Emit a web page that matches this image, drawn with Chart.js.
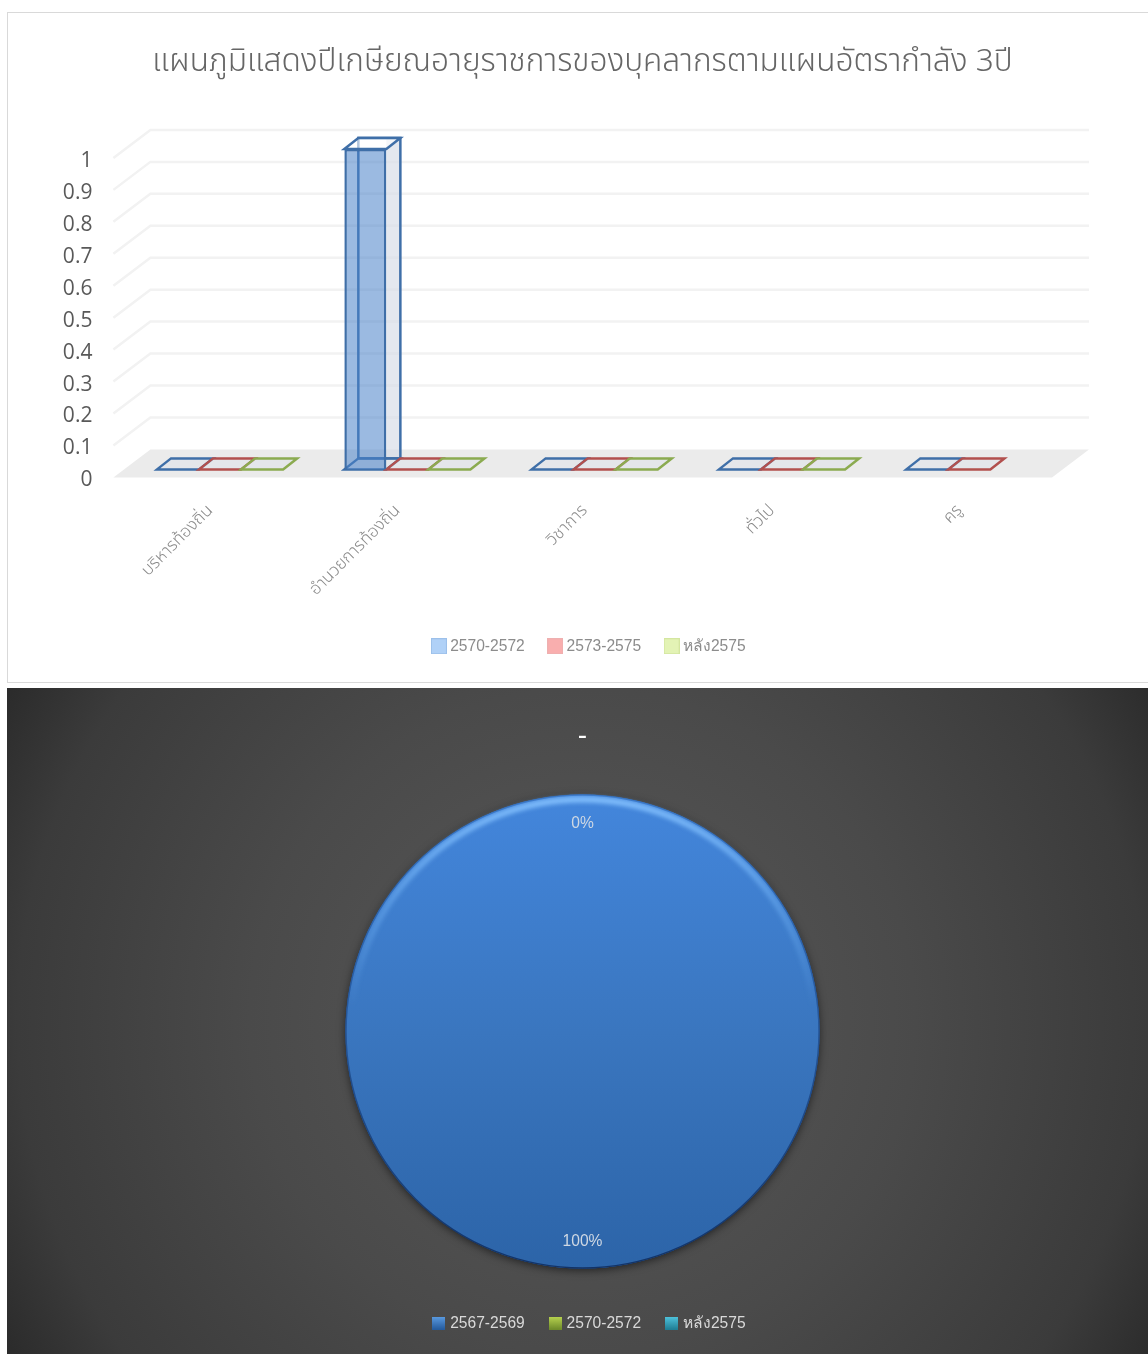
<!DOCTYPE html>
<html>
<head>
<meta charset="utf-8">
<script src="https://cdn.jsdelivr.net/npm/chart.js@4"></script>
<style>
  html, body { margin: 0; padding: 0; background: #fff; overflow: hidden; }
  #box1 { position: absolute; left: 7px; top: 12px; width: 1151px; height: 671px; }
  #box1:before { content: ''; position: absolute; inset: 0; border: 1px solid #d9d9d9; box-sizing: border-box; }
  #box2 { position: absolute; left: 7px; top: 688px; width: 1151px; height: 666px;
          background: radial-gradient(circle farthest-corner at 50% 50%, #595959 0%, #4a4a4a 50%, #3b3b3b 85%, #2b2b2b 100%); }
  canvas { position: absolute; left: 0; top: 0; }
</style>
</head>
<body>
<div id="box1"><canvas id="barChart" width="1151" height="671"></canvas></div>
<div id="box2"><canvas id="pieChart" width="1151" height="666"></canvas></div>
<script>
const thaiFont = '"Noto Sans Thai", "Noto Sans", "Liberation Sans", sans-serif';

// first chart
const barTitle = 'แผนภูมิแสดงปีเกษียณอายุราชการของบุคลากรตามแผนอัตรากำลัง 3ปี';
const categories = ['บริหารท้องถิ่น', 'อำนวยการท้องถิ่น', 'วิชาการ', 'ทั่วไป', 'ครู'];
const series1 = [0, 1, 0, 0, 0];
const series2 = [0, 0, 0, 0, 0];
const series3 = [0, 0, 0, 0, null];
const barLegend = ['2570-2572', '2573-2575', 'หลัง2575'];
const yTicks = [0, 0.1, 0.2, 0.3, 0.4, 0.5, 0.6, 0.7, 0.8, 0.9, 1];

// second chart
const pieTitle = '-';
const pieLegend = ['2567-2569', '2570-2572', 'หลัง2575'];
const pieValues = [1, 0, 0];

// ขนาดของมิติลึก
const depthX = 14, depthY = -11;
const wallX = 37, wallY = -28;

const strokes = ['#3f6fa8', '#b2504e', '#8bab50'];
const fills = ['rgba(72,130,200,0.55)', 'rgba(220,225,232,0.45)', 'rgba(220,228,215,0.45)'];

function swatch(size, draw) {
  const c = document.createElement('canvas');
  c.width = size; c.height = size;
  draw(c.getContext('2d'), size);
  return c;
}

const barSwatches = [['#b0d1f7', '#9cc0ea'], ['#f9aeae', '#eeb0b0'], ['#e3f3b5', '#d4e6a0']].map(p =>
  swatch(16, (g, s) => {
    g.fillStyle = p[0]; g.fillRect(0, 0, s, s);
    g.strokeStyle = p[1]; g.lineWidth = 1; g.strokeRect(0.5, 0.5, s - 1, s - 1);
  }));

const pieSwatches = [['#5a9ae0', '#245a9c'], ['#b7d24f', '#6d8a2a'], ['#4fc3dc', '#1f7d94']].map(p =>
  swatch(13, (g, s) => {
    const lg = g.createLinearGradient(0, 0, 0, s);
    lg.addColorStop(0, p[0]); lg.addColorStop(1, p[1]);
    g.fillStyle = lg; g.fillRect(0, 0, s, s);
  }));

function para(ctx, x0, y0, w, dx, dy) {
  ctx.beginPath();
  ctx.moveTo(x0, y0);
  ctx.lineTo(x0 + dx, y0 + dy);
  ctx.lineTo(x0 + w + dx, y0 + dy);
  ctx.lineTo(x0 + w, y0);
  ctx.closePath();
}

// คำอธิบายในต้นฉบับไม่ได้อยู่กลางพอดี
const nudgeLegend = {
  id: 'nudgeLegend',
  afterLayout(chart) {
    chart.legend.left += 8;
    chart.legend.right += 8;
  }
};

const room3d = {
  id: 'room3d',
  beforeDatasetsDraw(chart) {
    const ctx = chart.ctx;
    const area = chart.chartArea;
    const ys = chart.scales.yLabels;
    const left = area.left - 13, right = area.right - 11;
    ctx.save();
    // พื้น
    const y0 = ys.getPixelForValue(0);
    ctx.fillStyle = '#ebebeb';
    para(ctx, left, y0, right - left, wallX, wallY);
    ctx.fill();
    // เส้นกริด
    ctx.strokeStyle = '#f2f2f2';
    ctx.lineWidth = 2.5;
    yTicks.slice(1).forEach(v => {
      const y = ys.getPixelForValue(v);
      ctx.beginPath();
      ctx.moveTo(left, y);
      ctx.lineTo(left + wallX, y + wallY);
      ctx.lineTo(right + wallX, y + wallY);
      ctx.stroke();
    });
    // ด้านหลังของแท่ง
    chart.data.datasets.forEach((ds, i) => {
      chart.getDatasetMeta(i).data.forEach((bar, j) => {
        if (ds.data[j] === null) return;
        const w = bar.width, xl = bar.x - w / 2, base = bar.base, top = bar.y;
        ctx.lineWidth = 2.5;
        ctx.strokeStyle = strokes[i];
        if (base - top > 1) {
          ctx.fillStyle = 'rgba(214,220,230,0.65)';
          ctx.fillRect(xl + w, top + depthY, depthX, base - top);
          ctx.strokeRect(xl + depthX, top + depthY, w, base - top);
          para(ctx, xl, top, w, depthX, depthY);
          ctx.fillStyle = 'rgba(255,255,255,0.6)';
          ctx.fill();
          ctx.stroke();
        }
        para(ctx, xl, base, w, depthX, depthY);
        ctx.fillStyle = fills[1];
        ctx.fill();
        ctx.stroke();
      });
    });
    ctx.restore();
  }
};

new Chart(document.getElementById('barChart'), {
  type: 'bar',
  plugins: [room3d, nudgeLegend],
  data: {
    labels: categories,
    datasets: [
      { label: barLegend[0], data: series1, backgroundColor: fills[0], borderColor: strokes[0], borderWidth: 2.5 },
      { label: barLegend[1], data: series2, backgroundColor: fills[1], borderColor: strokes[1], borderWidth: 2.5 },
      { label: barLegend[2], data: series3, backgroundColor: fills[2], borderColor: strokes[2], borderWidth: 2.5 }
    ]
  },
  options: {
    responsive: false,
    animation: false,
    layout: { padding: { left: 0, right: 0, top: 0, bottom: 19 } },
    datasets: { bar: { barPercentage: 1, categoryPercentage: 0.673 } },
    scales: {
      x: {
        grid: { display: false },
        border: { display: false },
        afterFit(s) { s.height = 134; },
        ticks: { minRotation: 45, maxRotation: 45, padding: 16, labelOffset: -9, color: '#8a8a8a', font: { family: thaiFont, size: 17, weight: '300' } }
      },
      y: { display: false, min: -0.025, max: 1 },
      yLabels: {
        position: 'left',
        min: 0,
        max: 1.0282,
        grid: { display: false, drawTicks: false },
        border: { display: false },
        afterBuildTicks(s) { s.ticks = yTicks.map(v => ({ value: v })); },
        afterFit(s) { s.width = 119.4; },
        ticks: { autoSkip: false, padding: 34, labelOffset: 3, color: '#595959', font: { family: '"Open Sans"', size: 21 }, callback: v => v }
      },
      // กันที่ว่างด้านขวา ให้ชื่อกราฟกับคำอธิบายอยู่กลางแผ่น
      yRight: {
        position: 'right',
        grid: { display: false, drawTicks: false },
        border: { display: false },
        ticks: { display: false },
        afterFit(s) { s.width = 95; }
      }
    },
    plugins: {
      title: {
        display: true,
        text: barTitle,
        color: '#666666',
        font: { family: thaiFont, size: 31.6, weight: '300' },
        padding: { top: 34, bottom: 65 }
      },
      tooltip: { enabled: false },
      legend: {
        position: 'bottom',
        labels: {
          usePointStyle: true,
          boxWidth: 7,
          padding: 27,
          color: '#8c8c8c',
          font: { family: '"Liberation Sans"', size: 15.6 },
          generateLabels: () => barLegend.map((t, i) => ({ text: t, pointStyle: barSwatches[i], fontColor: '#8c8c8c', datasetIndex: i, hidden: false }))
        }
      }
    }
  }
});

const pieShadow = {
  id: 'pieShadow',
  beforeDatasetsDraw(chart) {
    const arc = chart.getDatasetMeta(0).data[0];
    const ctx = chart.ctx;
    ctx.save();
    ctx.shadowColor = 'rgba(0,0,0,0.55)';
    ctx.shadowBlur = 8;
    ctx.shadowOffsetY = 2;
    ctx.fillStyle = '#1d4680';
    ctx.beginPath();
    ctx.arc(arc.x, arc.y, arc.outerRadius, 0, Math.PI * 2);
    ctx.fill();
    ctx.restore();
  }
};

const pieLabels = {
  id: 'pieLabels',
  afterDatasetsDraw(chart) {
    const ctx = chart.ctx;
    const arc = chart.getDatasetMeta(0).data[0];
    const total = pieValues.reduce((a, b) => a + b, 0);
    const top = arc.y - arc.outerRadius, bottom = arc.y + arc.outerRadius;
    ctx.save();
    // ขอบสว่างด้านบน
    const rim = ctx.createLinearGradient(0, top, 0, arc.y - arc.outerRadius * 0.1);
    rim.addColorStop(0, 'rgba(135,195,255,0.95)');
    rim.addColorStop(0.5, 'rgba(120,185,250,0.45)');
    rim.addColorStop(1, 'rgba(120,185,250,0)');
    ctx.filter = 'blur(2px)';
    ctx.lineWidth = 6;
    ctx.strokeStyle = rim;
    ctx.beginPath();
    ctx.arc(arc.x, arc.y, arc.outerRadius - 5, 0, Math.PI * 2);
    ctx.stroke();
    ctx.filter = 'none';
    // ขอบนอก
    const edge = ctx.createLinearGradient(0, top, 0, bottom);
    edge.addColorStop(0, 'rgba(45,105,185,0.6)');
    edge.addColorStop(1, 'rgba(15,45,95,0.9)');
    ctx.lineWidth = 1.5;
    ctx.strokeStyle = edge;
    ctx.beginPath();
    ctx.arc(arc.x, arc.y, arc.outerRadius - 0.5, 0, Math.PI * 2);
    ctx.stroke();
    // เปอร์เซ็นต์
    ctx.fillStyle = '#cfd8e3';
    ctx.font = '15.6px "Liberation Sans"';
    ctx.textAlign = 'center';
    ctx.textBaseline = 'middle';
    const r = arc.outerRadius - 27;
    chart.getDatasetMeta(0).data.slice(0, 2).forEach((el, i) => {
      const mid = (el.startAngle + el.endAngle) / 2;
      const dy = i === 1 ? 2 : 0;
      ctx.fillText(Math.round(pieValues[i] / total * 100) + '%', el.x + Math.cos(mid) * r, el.y + Math.sin(mid) * r + dy);
    });
    ctx.restore();
  }
};

new Chart(document.getElementById('pieChart'), {
  type: 'pie',
  plugins: [pieShadow, pieLabels, nudgeLegend],
  data: {
    labels: pieLegend,
    datasets: [{
      data: pieValues,
      borderWidth: 0,
      radius: 237,
      backgroundColor(c) {
        const area = c.chart.chartArea;
        if (!area) return '#3a7bc8';
        const lg = c.chart.ctx.createLinearGradient(0, 795 - 688, 0, 1270 - 688);
        lg.addColorStop(0, '#4386dc');
        lg.addColorStop(0.5, '#3a76bf');
        lg.addColorStop(1, '#2c64a8');
        return lg;
      }
    }]
  },
  options: {
    responsive: false,
    animation: false,
    layout: { padding: { top: 0, bottom: 13 } },
    plugins: {
      title: {
        display: true,
        text: pieTitle,
        color: '#ffffff',
        font: { family: '"Liberation Sans"', size: 28, weight: 'normal' },
        padding: { top: 31, bottom: 22 }
      },
      tooltip: { enabled: false },
      legend: {
        position: 'bottom',
        labels: {
          usePointStyle: true,
          boxWidth: 7,
          padding: 27,
          color: '#d9d9d9',
          font: { family: '"Liberation Sans"', size: 15.6 },
          generateLabels: () => pieLegend.map((t, i) => ({ text: t, pointStyle: pieSwatches[i], fontColor: '#d9d9d9', index: i, hidden: false }))
        }
      }
    }
  }
});
</script>
</body>
</html>
